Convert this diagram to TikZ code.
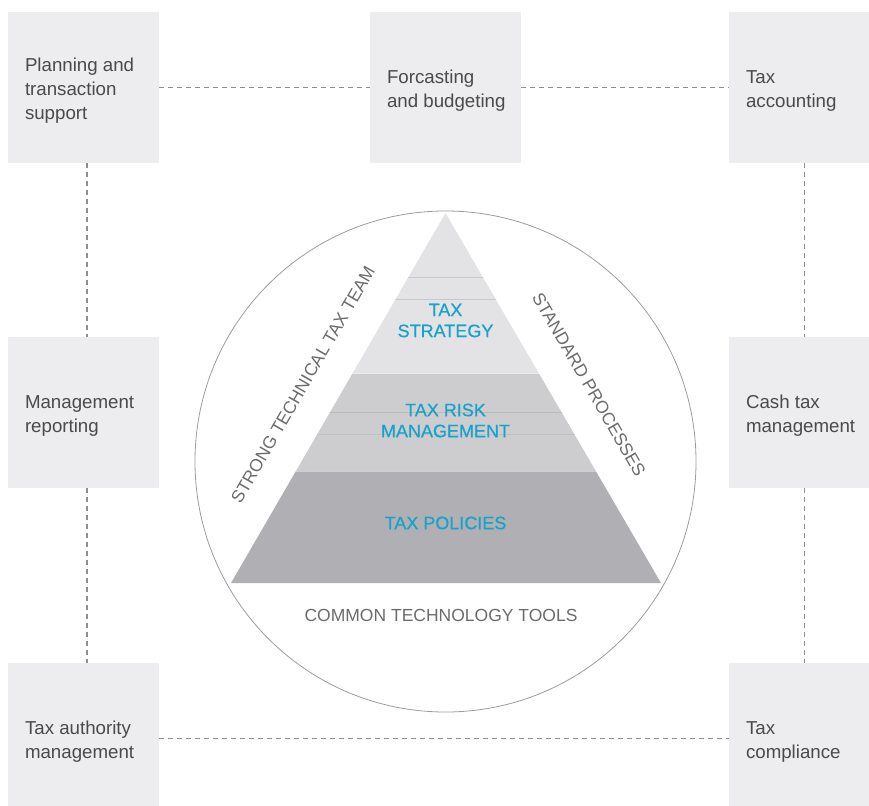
\documentclass[tikz,border=0pt]{standalone}
\usepackage{fontspec}
\setmainfont{Liberation Sans}
\newfontfamily\tierfont{Liberation Sans}[FakeBold=0.6]
\definecolor{boxfill}{HTML}{EDEDEF}
\definecolor{boxtext}{HTML}{4A4A4C}
\definecolor{dashgray}{HTML}{8E8E90}
\definecolor{ringgray}{HTML}{9C9C9E}
\definecolor{tierA}{HTML}{E3E3E5}
\definecolor{tierB}{HTML}{CDCDCF}
\definecolor{tierC}{HTML}{B0AFB3}
\definecolor{tierAline}{HTML}{C9C9CB}
\definecolor{tierBline}{HTML}{B8B8BB}
\definecolor{tiercyan}{HTML}{17A3C9}
\definecolor{labelgray}{HTML}{6B6B6E}
\newcommand{\boxlines}[1]{\makebox[117pt][l]{\raisebox{-3pt}[\height][\depth]{\begin{tabular}{@{}l@{}}#1\end{tabular}}}}
\begin{document}
\begin{tikzpicture}[x=1pt,y=-1pt,
  infobox/.style={fill=boxfill, minimum width=151pt, minimum height=151pt,
    inner xsep=17pt, inner ysep=0pt, font=\fontsize{18.7}{24}\selectfont, text=boxtext},
  link/.style={draw=dashgray, line width=1.2pt, dash pattern=on 5pt off 4pt},
  sidelabel/.style={font=\fontsize{17.5}{21}\selectfont, text=labelgray, inner sep=0pt},
  tierlabel/.style={font=\tierfont\fontsize{18}{21}\selectfont, text=tiercyan, align=center, inner sep=0pt}]
\useasboundingbox (0,0) rectangle (869,805);
\clip (0,0) rectangle (869,805);

% boxes
\node[infobox] (tl) at (83.5,87.5) {\boxlines{Planning and\\transaction\\support}};
\node[infobox] (tm) at (445.5,87.5) {\boxlines{Forcasting\\and budgeting}};
\node[infobox] (tr) at (804.5,87.5) {\boxlines{Tax\\accounting}};
\node[infobox] (ml) at (83.5,412.5) {\boxlines{Management\\reporting}};
\node[infobox] (mr) at (804.5,412.5) {\boxlines{Cash tax\\management}};
\node[infobox] (bl) at (83.5,738.5) {\boxlines{Tax authority\\management}};
\node[infobox] (br) at (804.5,738.5) {\boxlines{Tax\\compliance}};

% dashed connectors
\draw[link] (tl) -- (tm);
\draw[link] (tm) -- (tr);
\draw[link] (bl) -- (br);
\draw[link] ([xshift=3.5pt]tl.south) -- ([xshift=3.5pt]ml.north);
\draw[link] ([xshift=3.5pt]ml.south) -- ([xshift=3.5pt]bl.north);
\draw[link] (tr) -- (mr);
\draw[link] (mr) -- (br);

% ring
\node[draw=ringgray, line width=0.8pt, circle, minimum size=501pt, inner sep=0pt] (ring) at (445.5,461.5) {};

% pyramid
\coordinate (apex) at (445.5,213);
\coordinate (baseL) at (231,583);
\coordinate (baseR) at (661,583);
\begin{scope}
  \clip (apex) -- (baseL) -- (baseR) -- cycle;
  \fill[tierA] (200,200) rectangle (700,373);
  \fill[tierB] (200,373) rectangle (700,471);
  \fill[tierC] (200,471) rectangle (700,584);
  \draw[tierAline, line width=0.9pt] (200,277) -- (700,277);
  \draw[tierAline, line width=0.9pt] (200,299) -- (700,299);
  \draw[tierBline, line width=0.9pt] (200,412) -- (700,412);
  \draw[tierBline!60!tierB, line width=0.9pt] (200,434) -- (700,434);
  \draw[white, opacity=0.6, line width=1pt] (200,373) -- (700,373);
  \draw[white, opacity=0.4, line width=1pt] (200,471) -- (700,471);
\end{scope}

% tier labels
\node[tierlabel] (strategy) at (445.5,320.5) {TAX\\STRATEGY};
\node[tierlabel] (risk) at (445.5,420.5) {TAX RISK\\MANAGEMENT};
\node[tierlabel] (policies) at (445.5,523) {TAX POLICIES};

% side labels
\node[sidelabel, rotate=60] (team) at (303,384.5) {STRONG TECHNICAL TAX TEAM};
\node[sidelabel, rotate=-60] (processes) at (589,384.5) {STANDARD PROCESSES};
\node[sidelabel] (tools) at (441,615) {COMMON TECHNOLOGY TOOLS};
\end{tikzpicture}
\end{document}
